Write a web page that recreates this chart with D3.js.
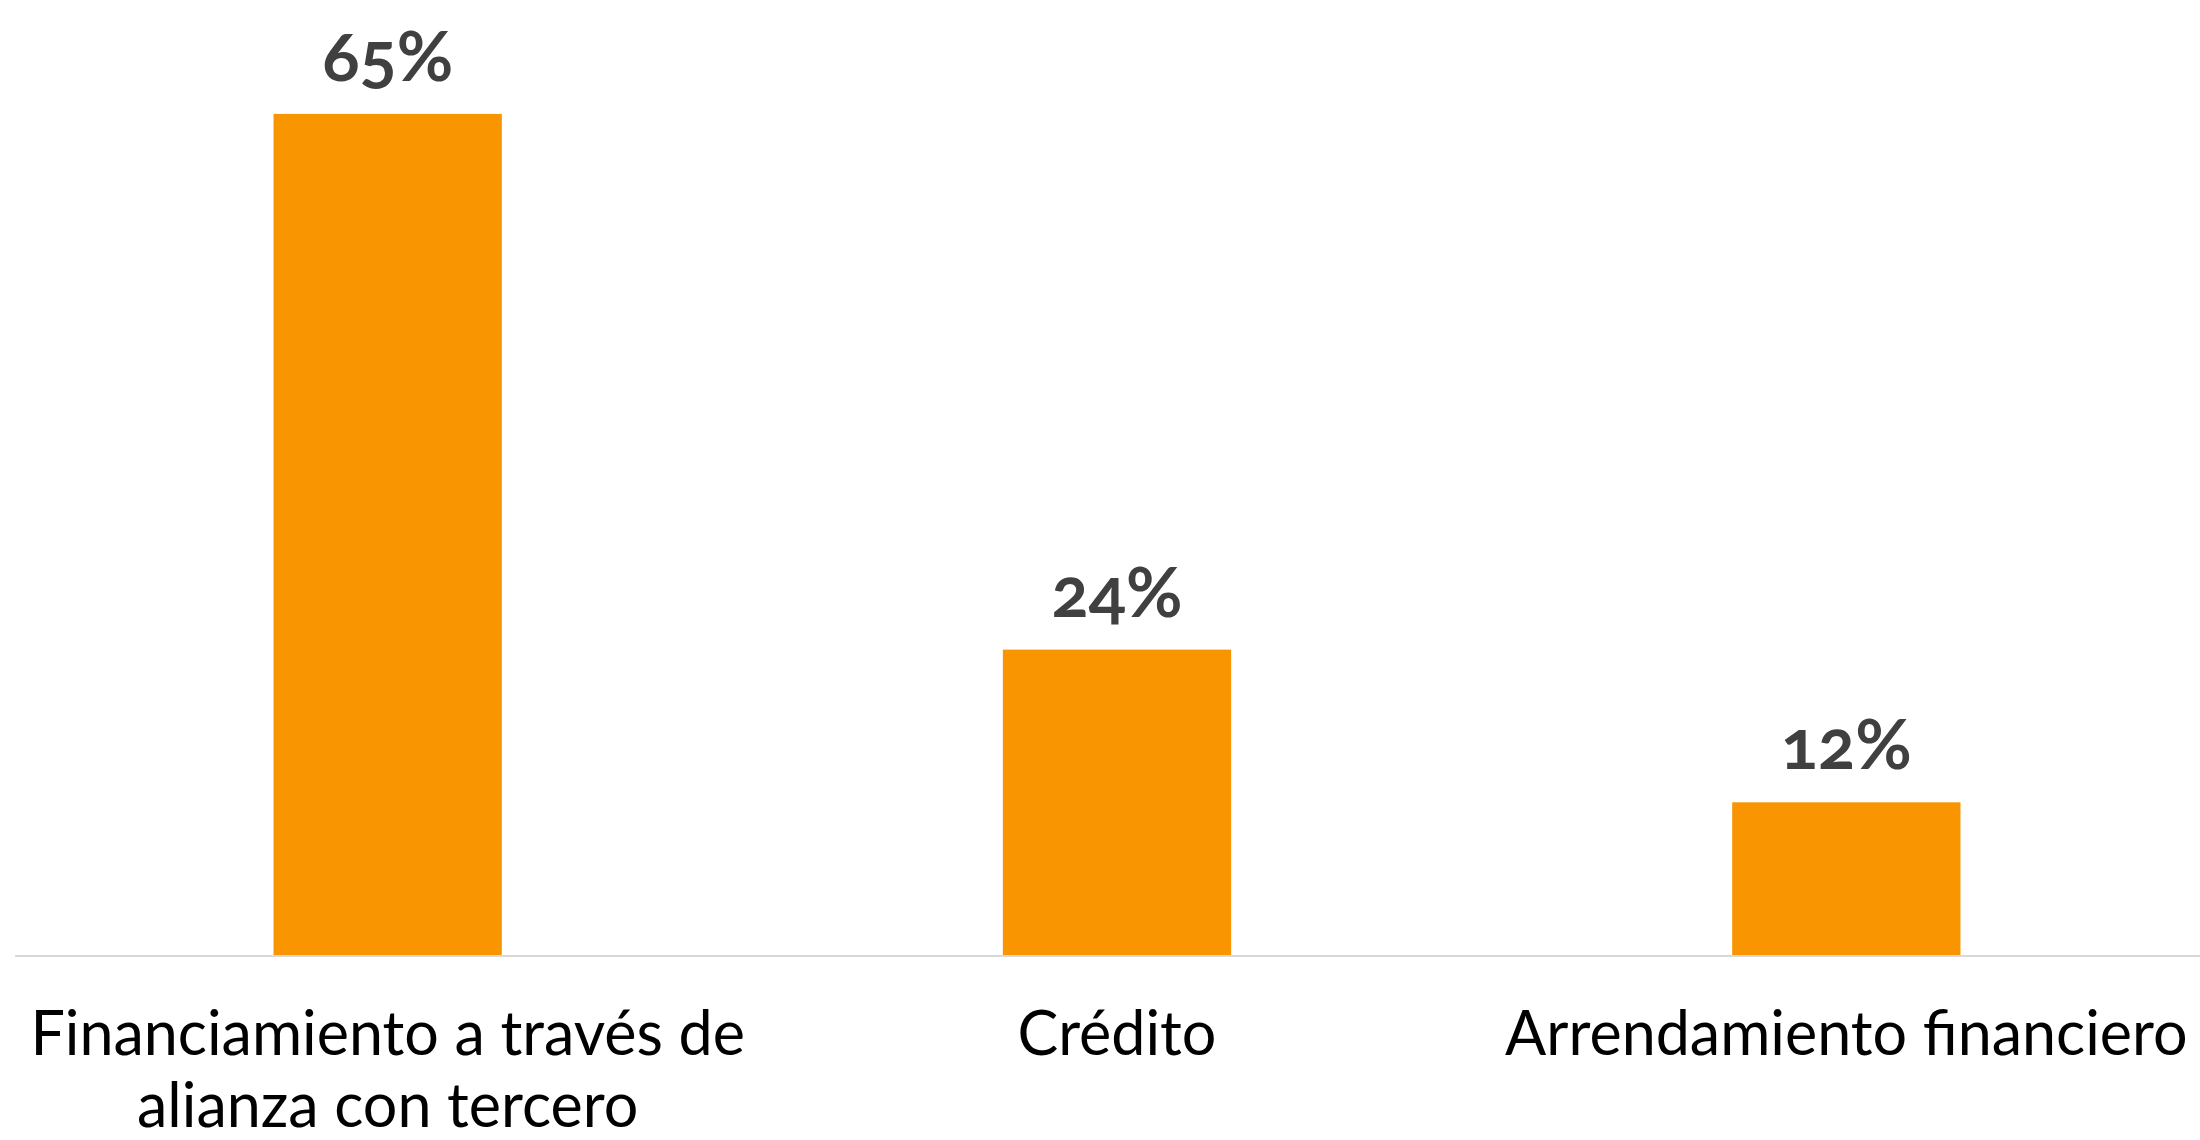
<!DOCTYPE html>
<html lang="es">
<head>
  <meta charset="utf-8">
  <title>Financiamiento</title>
  <script src="https://cdn.jsdelivr.net/npm/d3@7"></script>
  <style>
    body {
      margin: 0;
      background: #fff;
    }
    .valueLabel {
      font-family: Lato, sans-serif;
      font-weight: 700;
      font-size: 69px;
      fill: #404040;
      text-anchor: middle;
      font-variant-numeric: oldstyle-nums;
    }
    .catLabel {
      font-family: Lato, sans-serif;
      font-size: 61px;
      fill: #000;
      text-anchor: middle;
    }
  </style>
</head>
<body>
  <script>
    // values (labels show rounded %)
    var categories = [
      ["Financiamiento a través de", "alianza con tercero"],
      ["Crédito"],
      ["Arrendamiento financiero"]
    ];
    var values = [65, 23.6, 11.8];

    var width = 2200,
        height = 1140,
        baseY = 955;

    var svg = d3.select("body").append("svg")
      .attr("width", width)
      .attr("height", height);

    var x = d3.scaleBand()
      .domain(d3.range(values.length))
      .range([23, 2211])
      .paddingInner(0.687)
      .paddingOuter(0.3435);

    var y = d3.scaleLinear()
      .domain([0, 70])
      .range([baseY, baseY - 70 * 12.94]);

    var fmt = function (v) { return d3.format(".0f")(v) + "%"; };

    svg.selectAll(".bar")
      .data(values)
      .enter().append("rect")
      .attr("class", "bar")
      .attr("x", function (d, i) { return x(i); })
      .attr("y", function (d) { return y(d); })
      .attr("width", x.bandwidth())
      .attr("height", function (d) { return y(0) - y(d); })
      .attr("fill", "#F99500");

    // baseline
    svg.append("line")
      .attr("x1", 15)
      .attr("x2", width)
      .attr("y1", y(0) + 1)
      .attr("y2", y(0) + 1)
      .attr("stroke", "#D9D9D9")
      .attr("stroke-width", 2);

    svg.selectAll(".valueLabel")
      .data(values)
      .enter().append("text")
      .attr("class", "valueLabel")
      .attr("x", function (d, i) { return x(i) + x.bandwidth() / 2; })
      .attr("y", function (d) { return y(d) - 33; })
      .text(fmt);

    var cats = svg.selectAll(".catLabel")
      .data(categories)
      .enter().append("text")
      .attr("class", "catLabel")
      .attr("x", function (d, i) { return x(i) + x.bandwidth() / 2; })
      .attr("y", 1055);

    cats.selectAll("tspan")
      .data(function (d, i) { return d.map(function (t) { return { t: t, i: i }; }); })
      .enter().append("tspan")
      .attr("x", function (d) { return x(d.i) + x.bandwidth() / 2; })
      .attr("dy", function (d, j) { return j === 0 ? 0 : 72; })
      .text(function (d) { return d.t; });
  </script>
</body>
</html>
